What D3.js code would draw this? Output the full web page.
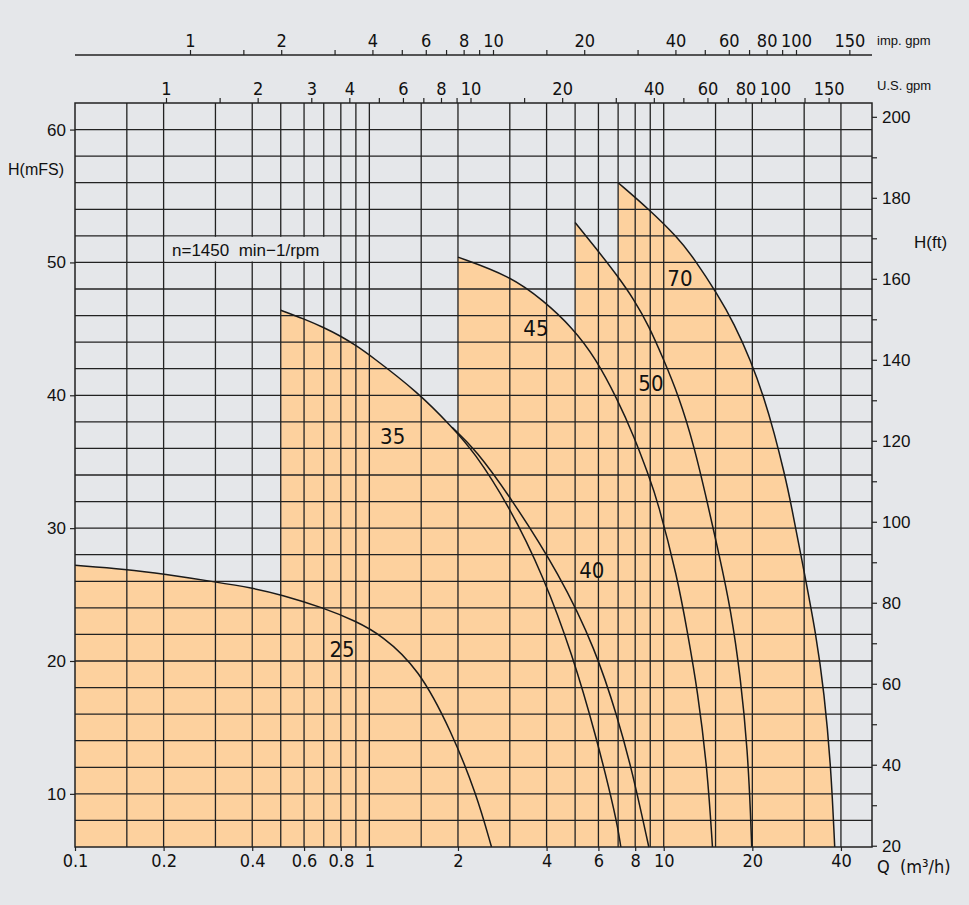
<!DOCTYPE html>
<html><head><meta charset="utf-8">
<script src="https://cdn.jsdelivr.net/npm/d3@7"></script>
<style>
body{margin:0;background:#e5e7ea;}
svg{display:block}
.narrow{font-family:'Liberation Sans Narrow','DejaVu Sans Condensed','Liberation Sans',sans-serif;}
.reg{font-family:'Liberation Sans',Arial,sans-serif;}
</style>
</head><body><svg id="c" width="969" height="905"></svg>
<script>
// ---------- data ----------
const gridQ = [0.15,0.2,0.3,0.4,0.5,0.6,0.7,0.8,0.9,1,1.5,2,3,4,5,6,7,8,9,10,15,20,30,40];
const gridH = [8,10,12,14,16,18,20,22,24,26,28,30,32,34,36,38,40,42,44,46,48,50,52,54,56,58,60];
const qTicks = [0.1,0.2,0.4,0.6,0.8,1,2,4,6,8,10,20,40];
const qTickLabels = ["0.1","0.2","0.4","0.6","0.8","1","2","4","6","8","10","20","40"];
const hTicks = [10,20,30,40,50,60];
const ftTicks = [20,30,40,50,60,70,80,90,100,110,120,130,140,150,160,170,180,190,200];
const ftLabels = [20,40,60,80,100,120,140,160,180,200];
const impTicks = [1,1.5,2,3,4,5,6,7,8,9,10,15,20,30,40,50,60,70,80,90,100,150];
const impLabels = [1,2,4,6,8,10,20,40,60,80,100,150];
const usTicks = [1,1.5,2,3,4,5,6,7,8,9,10,15,20,30,40,50,60,70,80,90,100,125,150];
const usLabels = [1,2,3,4,6,8,10,20,40,60,80,100,150];

const q25 = [0.1,0.15,0.2,0.3,0.4,0.5,0.7,0.9,1.1,1.47,1.9,2.31,2.6];
const h25 = [27.2,26.9,26.55,25.95,25.5,25.0,24.0,23.0,21.95,19.45,14.7,10.0,6];
const q35 = [0.5,0.6,0.7,0.8,0.9,1.0,1.47,1.91,2.26,2.98,3.92,4.89,5.87,6.9,7.15];
const h35 = [46.4,45.75,45.1,44.45,43.75,43.05,40.2,37.6,35.8,31.7,26.3,20.5,14.5,8.2,6];
const q40 = [1.91,2.3,3.0,4.44,5.87,6.96,7.8,8.9];
const h40 = [37.6,35.9,32.4,26.5,20.85,15.8,11.8,6];
const q45 = [2,3,3.92,4.89,5.87,6.96,7.93,8.91,9.52,11.13,12.03,13.03,14.08,14.64];
const h45 = [50.4,49,47.1,45.1,42.8,39.7,36.9,33.9,32.1,26.3,22.2,17.8,11.8,6];
const q50 = [5,5.87,6.96,7.93,8.91,9.9,11.27,12.68,14.08,15.42,16.9,18.28,19.27,19.77,19.9];
const h50 = [53,51.1,49,47.2,45.2,42.9,39.9,36.2,31.9,28,23.9,18.6,13.3,8,6];
const q70 = [7,8.91,11.13,12.68,15.23,17.34,19.77,21.93,23.72,25.66,27.04,30.0,32.87,35.1,36.98,38.1];
const h70 = [56,54,51.9,50.3,47.6,45.4,42.6,39.8,37.2,34.2,31.9,26.7,22.1,17.6,12.1,6];

const seriesNames = ["25","35","40","45","50","70"];
const labelQ = [0.808,1.20,5.70,3.68,9.05,11.35];
const labelH = [20.9,36.9,26.8,45.0,40.9,48.8];

// ---------- drawing ----------
const BG = "#e5e7ea", FILL = "#fdd19e", INK = "#222";
const svg = d3.select("#c");
svg.append("rect").attr("width",969).attr("height",905).attr("fill",BG);

const x = d3.scaleLog().domain([0.1, 51]).range([75, 872]);
const y = d3.scaleLinear().domain([6, 62]).range([847, 103]);
const yFt = d3.scaleLinear().domain([6/0.3048, 62/0.3048]).range([847, 103]);
const xImp = d3.scaleLog().domain([1,100]).range([190,796]);
const xUS = d3.scaleLog().domain([1,100]).range([166,775]);

const series = [[q25,h25],[q35,h35],[q40,h40],[q45,h45],[q50,h50],[q70,h70]]
  .map(([q,h]) => q.map((v,i)=>[v,h[i]]));

const area = d3.area().x(d=>x(d[0])).y0(y(6)).y1(d=>y(d[1])).curve(d3.curveBasis);
const line = d3.line().x(d=>x(d[0])).y(d=>y(d[1])).curve(d3.curveBasis);

const plot = svg.append("g");
plot.selectAll("path.fill").data(series).join("path")
  .attr("class","fill").attr("d",area).attr("fill",FILL).attr("stroke","none");

// grid
plot.selectAll("line.vg").data(gridQ).join("line").attr("class","vg")
  .attr("x1",d=>x(d)).attr("x2",d=>x(d)).attr("y1",y(6)).attr("y2",y(62))
  .attr("stroke",INK).attr("stroke-width",1.3);
plot.selectAll("line.hg").data(gridH).join("line").attr("class","hg")
  .attr("x1",x(0.1)).attr("x2",x(51)).attr("y1",d=>y(d)).attr("y2",d=>y(d))
  .attr("stroke",INK).attr("stroke-width",1.3);

// rpm note box
plot.append("rect").attr("x",x(0.2)+1).attr("y",y(52)+1)
  .attr("width",x(0.8)-x(0.2)-2).attr("height",y(50)-y(52)-2).attr("fill",BG);
plot.append("text").attr("class","reg").attr("x",172).attr("y",(y(52)+y(50))/2+1)
  .attr("dominant-baseline","central").attr("font-size",17).attr("fill","#111")
  .text("n=1450  min\u22121/rpm").style("white-space","pre");

// curves
plot.selectAll("path.crv").data(series).join("path").attr("class","crv")
  .attr("d",line).attr("fill","none").attr("stroke","#1a1a1a").attr("stroke-width",1.5);

// curve labels
plot.selectAll("text.cl").data(seriesNames).join("text").attr("class","cl narrow")
  .attr("x",(d,i)=>x(labelQ[i])).attr("y",(d,i)=>y(labelH[i]))
  .attr("text-anchor","middle").attr("dominant-baseline","central")
  .attr("font-size",22).attr("fill","#111").text(d=>d);

// border
svg.append("rect").attr("x",x(0.1)).attr("y",y(62)).attr("width",x(51)-x(0.1)).attr("height",y(6)-y(62))
  .attr("fill","none").attr("stroke",INK).attr("stroke-width",1.5);

function styleAxis(g, cls, size){
  g.select(".domain").remove();
  g.selectAll("line").attr("stroke",INK).attr("stroke-width",1.2);
  g.selectAll("text").attr("class",cls).attr("font-size",size).attr("fill","#111").attr("font-family",null);
}

// left axis
const gl = svg.append("g").attr("transform",`translate(${x(0.1)},0)`)
  .call(d3.axisLeft(y).tickValues(hTicks).tickSize(5).tickPadding(4).tickSizeOuter(0));
styleAxis(gl,"reg",17);

// right axis
const gr = svg.append("g").attr("transform",`translate(${x(51)},0)`)
  .call(d3.axisRight(yFt).tickValues(ftTicks).tickSize(5).tickPadding(5)
    .tickFormat(d=>ftLabels.includes(d)?d:""));
styleAxis(gr,"reg",17);

// bottom axis
const gb = svg.append("g").attr("transform",`translate(0,${y(6)})`)
  .call(d3.axisBottom(x).tickValues(qTicks).tickSize(4).tickPadding(3)
    .tickFormat((d,i)=>qTickLabels[i]));
styleAxis(gb,"narrow",18);

// top axes
const gi = svg.append("g").attr("transform","translate(0,55)")
  .call(d3.axisTop(xImp).tickValues(impTicks).tickSize(5).tickPadding(3)
    .tickFormat(d=>impLabels.includes(d)?d:""));
styleAxis(gi,"narrow",18);
gi.append("line").attr("x1",x(0.1)).attr("x2",x(51)).attr("stroke",INK).attr("stroke-width",1.5);

const gu = svg.append("g").attr("transform",`translate(0,${y(62)})`)
  .call(d3.axisTop(xUS).tickValues(usTicks).tickSize(5).tickPadding(3)
    .tickFormat(d=>usLabels.includes(d)?d:""));
styleAxis(gu,"narrow",18);

// axis titles
svg.append("text").attr("class","reg").attr("x",877).attr("y",45).attr("font-size",13).attr("fill","#111").text("imp. gpm");
svg.append("text").attr("class","reg").attr("x",877).attr("y",90).attr("font-size",13).attr("fill","#111").text("U.S. gpm");
svg.append("text").attr("class","reg").attr("x",8).attr("y",175).attr("font-size",16).attr("fill","#111").text("H(mFS)");
svg.append("text").attr("class","reg").attr("x",914).attr("y",248).attr("font-size",17).attr("fill","#111").text("H(ft)");
svg.append("text").attr("class","narrow").attr("x",877).attr("y",873).attr("font-size",18).attr("fill","#111")
  .style("white-space","pre").text("Q  (m\u00b3/h)");
</script>
</body></html>
